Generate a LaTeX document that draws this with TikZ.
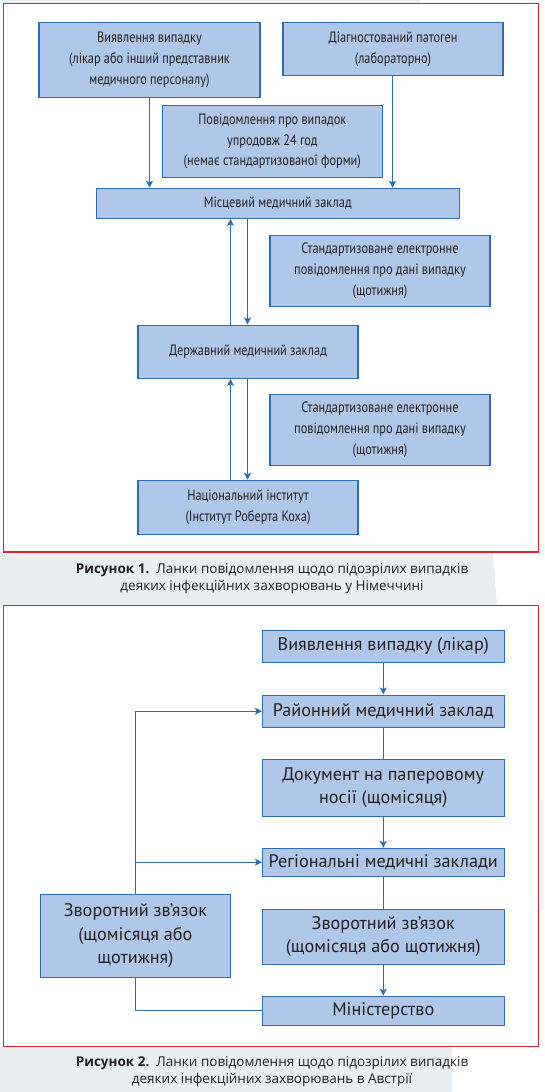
\documentclass[tikz,border=0pt]{standalone}
\usepackage{fontspec}
\setmainfont{PT Sans}
\newfontfamily\condfont[FakeStretch=0.82]{PT Sans}
\newfontfamily\capfont{Open Sans}
\usetikzlibrary{arrows.meta}
\definecolor{boxfill}{HTML}{AFC7E8}
\definecolor{boxline}{HTML}{2C6DB5}
\definecolor{txt}{HTML}{231F20}
\definecolor{frame}{HTML}{D9232E}
\definecolor{bggray}{HTML}{E9EEF3}
\tikzset{
  boxa/.style={draw=boxline, fill=boxfill, line width=1.1pt, inner sep=0pt, align=center, text=txt,
    font=\condfont\fontsize{15}{20.8}\selectfont},
  boxb/.style={draw=boxline, fill=boxfill, line width=1.1pt, inner sep=0pt, align=center, text=txt,
    font=\fontsize{18.2}{23.3}\selectfont},
  conn/.style={draw=boxline, line width=1.1pt},
  arr/.style={conn, -{Stealth[length=7pt,width=7pt,inset=1.5pt]}},
  frm/.style={draw=frame, line width=1.2pt},
  captxt/.style={align=center, text=txt, font=\capfont\fontsize{13.5}{16.7}\selectfont}
}
\begin{document}
\begin{tikzpicture}[x=1pt,y=-1pt]
\useasboundingbox (0,0) rectangle (544,1092);
% backgrounds
\fill[bggray] (0,0) rectangle (420,3);
\fill[bggray] (0,552) -- (493,552) -- (497,605) -- (0,605) -- cycle;
\fill[bggray] (0,1047) rectangle (452,1092);
\fill[bggray!60] (540,800) rectangle (544,910);
% frames
\draw[frm] (3.5,3.5) rectangle (538.5,552);
\draw[frm] (3.5,605.5) rectangle (538.5,1046.5);

% ---------- Figure 1 ----------
\node[boxa, minimum width=221pt, minimum height=74.6pt] (v1) at (149.5,60) {Виявлення випадку\\(лікар або інший представник\\медичного персоналу)};
\node[boxa, minimum width=220pt, minimum height=52.6pt] (d1) at (393,49) {Діагностований патоген\\(лабораторно)};
\node[boxa, minimum width=219.5pt, minimum height=71.6pt] (p1) at (272.3,141.5) {Повідомлення про випадок\\упродовж 24 год\\(немає стандартизованої форми)};
\node[boxa, minimum width=362.5pt, minimum height=30pt] (m1) at (277.8,203.3) {Місцевий медичний заклад};
\node[boxa, minimum width=220pt, minimum height=70.6pt] (s1) at (380,271) {Стандартизоване електронне\\повідомлення про дані випадку\\(щотижня)};
\node[boxa, minimum width=220pt, minimum height=53.3pt] (dz) at (248,351.7) {Державний медичний заклад};
\node[boxa, minimum width=220pt, minimum height=71pt] (s2) at (380,429.8) {Стандартизоване електронне\\повідомлення про дані випадку\\(щотижня)};
\node[boxa, minimum width=220pt, minimum height=54pt] (n1) at (248,507.3) {Національний інститут\\(Інститут Роберта Коха)};

\draw[arr] (v1.south -| 149.5,0) -- (m1.north -| 149.5,0);
\draw[arr] (d1.south -| 392.5,0) -- (m1.north -| 392.5,0);
\draw[arr] (dz.north -| 230.5,0) -- (m1.south -| 230.5,0);
\draw[arr] (m1.south -| 247.5,0) -- (dz.north -| 247.5,0);
\draw[arr] (n1.north -| 230.5,0) -- (dz.south -| 230.5,0);
\draw[arr] (dz.south -| 247.5,0) -- (n1.north -| 247.5,0);

\node[captxt] (c1) at (272,578.5) {{\bfseries Рисунок 1.}\ \ Ланки повідомлення щодо підозрілих випадків\\деяких інфекційних захворювань у Німеччині};

% ---------- Figure 2 ----------
\node[boxb, minimum width=241.5pt, minimum height=32.3pt] (a1) at (383.3,646.2) {Виявлення випадку (лікар)};
\node[boxb, minimum width=241.5pt, minimum height=32.3pt] (a2) at (383.3,711.2) {Районний медичний заклад};
\node[boxb, minimum width=241.5pt, minimum height=57pt] (a3) at (383.3,787.8) {Документ на паперовому\\носії (щомісяця)};
\node[boxb, minimum width=241.5pt, minimum height=27.7pt] (a4) at (383.3,862.2) {Регіональні медичні заклади};
\node[boxb, minimum width=241.5pt, minimum height=55pt] (a5) at (383.3,936.8) {Зворотний зв’язок\\(щомісяця або щотижня)};
\node[boxb, minimum width=241.5pt, minimum height=29pt] (a6) at (383.3,1010.8) {Міністерство};
\node[boxb, minimum width=190.2pt, minimum height=83.3pt] (b1) at (135.4,935.7) {Зворотний зв’язок\\(щомісяця або\\щотижня)};

\draw[arr] (a1) -- (a2);
\draw[conn] (a2) -- (a3);
\draw[arr] (a3) -- (a4);
\draw[conn] (a4) -- (a5);
\draw[arr] (a5) -- (a6);
\draw[conn] (a6.west) -| (b1.south);
\draw[arr] (b1.north) |- (a2.west);
\draw[arr] (b1.north |- a4.west) -- (a4.west);

\node[captxt] (c2) at (272,1071.5) {{\bfseries Рисунок 2.}\ \ Ланки повідомлення щодо підозрілих випадків\\деяких інфекційних захворювань в Австрії};
\end{tikzpicture}
\end{document}
